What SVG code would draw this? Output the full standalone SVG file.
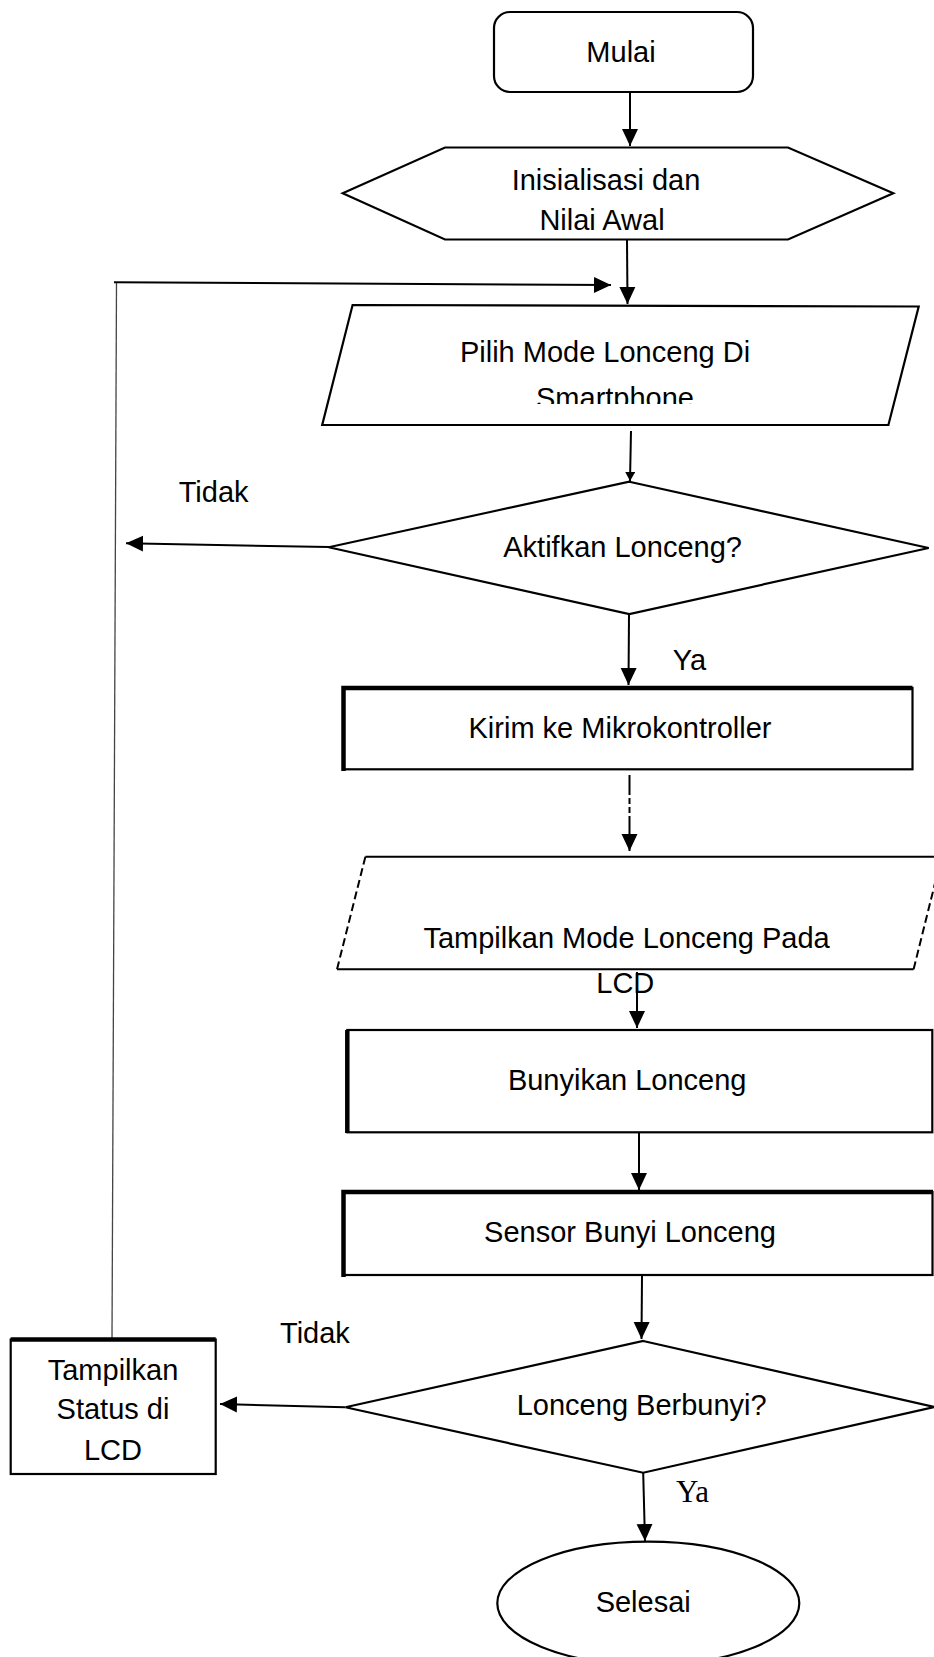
<svg xmlns="http://www.w3.org/2000/svg" width="934" height="1657" viewBox="0 0 934 1657">
<style>
.s{fill:#fff;stroke:#000;stroke-width:2.2}
.t{font-family:"Liberation Sans",Arial,sans-serif;font-size:29px;fill:#000;text-anchor:middle}
.l{fill:none;stroke:#000;stroke-width:2}
.th{stroke:#000;stroke-width:4.5;fill:none}
</style>
<defs>
<marker id="a" markerUnits="userSpaceOnUse" markerWidth="18" markerHeight="18" viewBox="0 0 18 16" refX="17" refY="8" orient="auto"><path d="M0,0 L17,8 L0,16 Z" fill="#000"/></marker>
<marker id="sm" markerUnits="userSpaceOnUse" markerWidth="10" markerHeight="10" viewBox="0 0 10 10" refX="9" refY="5" orient="auto"><path d="M0,0 L9,5 L0,10 Z" fill="#000"/></marker>
<clipPath id="cp"><rect x="300" y="370" width="600" height="34"/></clipPath>
</defs>
<rect width="934" height="1657" fill="#fff"/>

<g id="connectors">
<path class="l" d="M630,92 L630,146" marker-end="url(#a)"/>
<path class="l" d="M627,240 L627.5,304" marker-end="url(#a)"/>
<path d="M112,1339 L116.5,283" fill="none" stroke="#444" stroke-width="1.3"/>
<path class="l" d="M114,282.3 L611,285" stroke-width="2.5" marker-end="url(#a)"/>
<path class="l" d="M631,431 L630,481" stroke-width="2.5" marker-end="url(#sm)"/>
<path class="l" d="M329,547 L126,543.3" stroke-width="2.5" marker-end="url(#a)"/>
<path class="l" d="M629,614 L628.5,685" marker-end="url(#a)"/>
<path class="l" d="M629.5,775 L629.5,851" stroke-dasharray="20 3 6 3 6 3 40" marker-end="url(#a)"/>
<path class="l" d="M637,972 L637,1028" marker-end="url(#a)"/>
<path class="l" d="M639,1132 L639,1190" marker-end="url(#a)"/>
<path class="l" d="M642,1276 L641.5,1339" marker-end="url(#a)"/>
<path class="l" d="M345,1407.3 L220,1404" stroke-width="2.5" marker-end="url(#a)"/>
<path class="l" d="M643.2,1473 L645,1541" marker-end="url(#a)"/>
</g>

<g id="mulai">
<rect class="s" x="494" y="12" width="259" height="80" rx="16"/>
<text class="t" x="621" y="62">Mulai</text>
</g>

<g id="inisialisasi">
<polygon class="s" points="342.7,193.3 445,147.5 788,147.5 893.3,193.3 788,239.5 445,239.5"/>
<text class="t" x="606" y="190">Inisialisasi dan</text>
<text class="t" x="602" y="230">Nilai Awal</text>
</g>

<g id="pilih">
<polygon class="s" points="352.6,305 918.7,306.5 888.4,425 322.2,425"/>
<text class="t" x="605" y="362">Pilih Mode Lonceng Di</text>
<text class="t" x="615" y="408" clip-path="url(#cp)">Smartphone</text>
</g>

<g id="aktifkan">
<polygon class="s" points="629.3,481.7 928.7,548 629.3,614 328.7,547.3"/>
<text class="t" x="622.6" y="557">Aktifkan Lonceng?</text>
<text class="t" x="178.7" y="502" style="text-anchor:start">Tidak</text>
<text class="t" x="672.8" y="670" style="text-anchor:start">Ya</text>
</g>

<g id="kirim">
<rect class="s" x="343.5" y="688" width="569" height="81.3"/>
<path class="th" d="M343.5,771 L343.5,688 L912.5,688"/>
<text class="t" x="620" y="738">Kirim ke Mikrokontroller</text>
</g>

<g id="tampilkan-mode">
<polygon points="365.4,856.7 941.6,856.7 913.6,969.3 337,969.3" fill="#fff" stroke="none"/>
<path class="l" d="M365.4,856.7 L941.6,856.7 M337,969.3 L913.6,969.3" stroke-width="2.5"/>
<path class="l" d="M365.4,856.7 L337,969.3 M941.6,856.7 L913.6,969.3" stroke-dasharray="8 4"/>
<text class="t" x="626.6" y="948.3">Tampilkan Mode Lonceng Pada</text>
<text class="t" x="625.3" y="993.3">LCD</text>
</g>

<g id="bunyikan">
<rect class="s" x="347.3" y="1030" width="585" height="102.3"/>
<path class="th" d="M347.3,1133 L347.3,1030"/>
<text class="t" x="627.2" y="1090">Bunyikan Lonceng</text>
</g>

<g id="sensor">
<rect class="s" x="343.5" y="1192" width="589" height="83"/>
<path class="th" d="M343.5,1277 L343.5,1192 L933,1192"/>
<text class="t" x="630" y="1242">Sensor Bunyi Lonceng</text>
</g>

<g id="berbunyi">
<polygon class="s" points="643.2,1341 934,1407 643.2,1472.7 345.4,1407.3"/>
<text class="t" x="641.7" y="1415">Lonceng Berbunyi?</text>
<text class="t" x="280" y="1343.3" style="text-anchor:start">Tidak</text>
<text x="676" y="1502" style="font-family:'Liberation Serif','Times New Roman',serif;font-size:31px;fill:#000">Ya</text>
</g>

<g id="tampilkan-status">
<rect class="s" x="10.7" y="1339.5" width="205" height="134.5"/>
<path class="th" d="M10.7,1339.5 L215.7,1339.5"/>
<text class="t" x="113" y="1380">Tampilkan</text>
<text class="t" x="113" y="1419">Status di</text>
<text class="t" x="113" y="1460">LCD</text>
</g>

<g id="selesai">
<ellipse class="s" cx="648.3" cy="1603.3" rx="151" ry="61.7"/>
<text class="t" x="643.2" y="1611.7">Selesai</text>
</g>
</svg>
